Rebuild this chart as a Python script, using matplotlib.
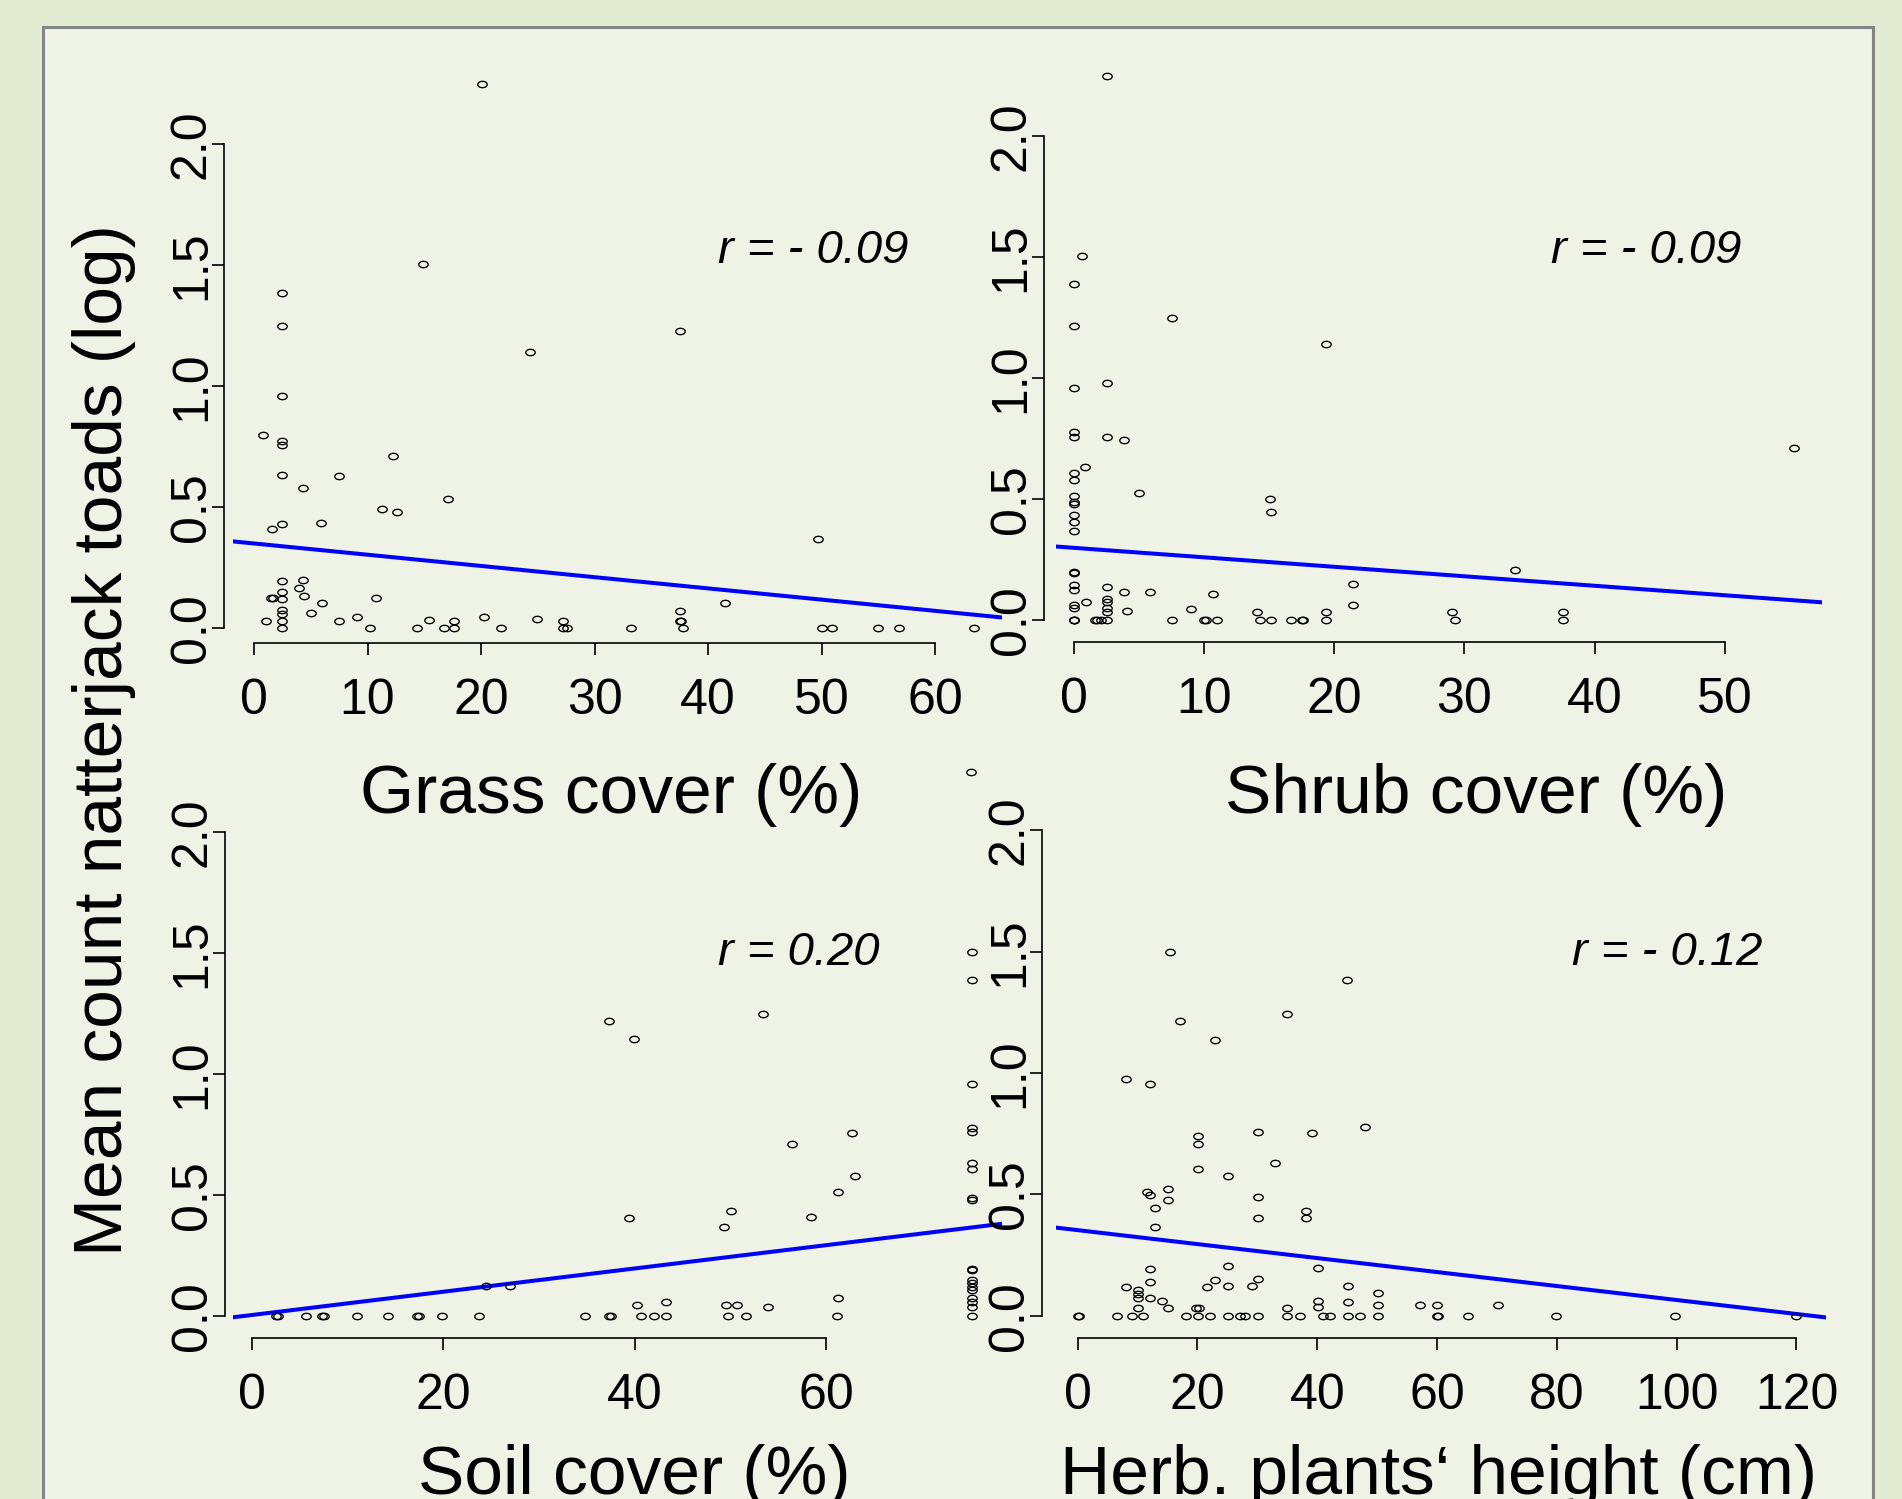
import numpy as np
import matplotlib
matplotlib.use('Agg')
import matplotlib.pyplot as plt
from matplotlib.path import Path
from matplotlib.transforms import Affine2D
from matplotlib.patches import Rectangle

plt.rcParams['font.family'] = ['Liberation Sans', 'DejaVu Sans']

# ---- data (log mean counts) ----
grass_x = [20.05, 14.86, 2.48, 2.48, 37.5, 24.3, 2.48, 0.81, 2.48, 2.48, 12.2, 2.48, 7.48,
           4.28, 17.07, 11.26, 12.57, 5.86, 2.48, 1.62, 49.7,
           2.48, 4.28, 4.0, 2.48, 1.5, 1.7, 4.41, 2.48, 10.77, 5.95, 41.5, 2.48, 2.48, 5.0,
           9.1, 20.3, 37.5, 1.04, 2.48, 7.48, 15.4, 17.6, 24.96, 27.2, 37.5, 37.6,
           2.48, 10.2, 14.4, 16.7, 17.6, 21.8, 27.2, 27.6, 33.2, 37.8, 50.0, 50.9, 55.0, 56.8, 63.4]
grass_y = [2.245, 1.504, 1.385, 1.246, 1.228, 1.138, 0.958, 0.795, 0.773, 0.754, 0.708, 0.631, 0.626,
           0.579, 0.533, 0.492, 0.479, 0.433, 0.427, 0.406, 0.368,
           0.191, 0.196, 0.163, 0.147, 0.123, 0.123, 0.131, 0.119, 0.123, 0.10, 0.10, 0.073, 0.058, 0.062,
           0.046, 0.046, 0.071, 0.027, 0.027, 0.027, 0.033, 0.027, 0.036, 0.027, 0.027, 0.027,
           0, 0, 0, 0, 0, 0, 0, 0, 0, 0, 0, 0, 0, 0, 0]

shrub_x = [2.52, 0.62, 0, 0, 7.55, 19.39, 0, 2.52, 0, 0, 2.52, 3.88, 55.3, 0.83, 0, 0, 5.03,
           0, 0, 0, 15.1, 15.18, 0, 0, 0, 33.87, 0, 0, 0, 0, 2.52, 3.88, 5.86, 10.7, 21.45,
           2.52, 0.95, 0, 0, 2.52, 2.52, 2.52, 4.08, 9.03, 14.07, 19.39, 21.45, 29.04, 37.54,
           0, 0, 0, 1.6, 1.8, 2.1, 2.52, 7.55, 10.0, 10.15, 11.0, 14.27, 15.18, 16.67, 17.5,
           17.6, 19.39, 29.25, 37.54]
shrub_y = [2.248, 1.505, 1.388, 1.218, 1.247, 1.141, 0.960, 0.981, 0.780, 0.756, 0.759, 0.744, 0.710,
           0.633, 0.608, 0.579, 0.525, 0.513, 0.487, 0.479, 0.502, 0.448, 0.435, 0.407, 0.369,
           0.206, 0.201, 0.195, 0.147, 0.125, 0.139, 0.119, 0.119, 0.108, 0.152,
           0.090, 0.074, 0.063, 0.052, 0.074, 0.049, 0.033, 0.038, 0.046, 0.033, 0.033, 0.062,
           0.033, 0.033,
           0, 0, 0, 0, 0, 0, 0, 0, 0, 0, 0, 0, 0, 0, 0, 0, 0, 0, 0]

soil_x = [2.56, 2.7, 5.68, 7.4, 7.6, 10.96, 14.2, 17.3, 17.5, 19.92, 23.76, 34.88, 37.3, 37.5,
          40.72, 42.0, 43.24, 49.8, 51.64, 61.2, 75.3,
          24.48, 27.04, 39.44, 40.28, 43.24, 49.36, 50.08, 49.56, 50.68, 53.96, 56.48, 75.2,
          37.3, 39.9, 53.4, 62.7, 63.0, 61.3, 58.4, 61.3,
          75.3, 75.3, 75.3, 75.3, 75.3, 75.3, 75.3, 75.3, 75.3, 75.3, 75.3, 75.3, 75.3, 75.3,
          75.3, 75.3, 75.3, 75.3]
soil_y = [0, 0, 0, 0, 0, 0, 0, 0, 0, 0, 0, 0, 0, 0, 0, 0, 0, 0, 0, 0, 0,
          0.123, 0.123, 0.406, 0.045, 0.058, 0.369, 0.434, 0.045, 0.045, 0.037, 0.709, 2.25,
          1.218, 1.143, 1.248, 0.756, 0.579, 0.512, 0.408, 0.073,
          1.503, 1.388, 0.959, 0.778, 0.759, 0.631, 0.609, 0.489, 0.479, 0.194, 0.19, 0.149,
          0.135, 0.121, 0.107, 0.073, 0.059, 0.038]

herb_x = [0, 0.3, 6.63, 9.14, 10.97, 18.0, 19.67, 20.17, 20.06, 22.1, 25.1, 27.1, 28.0, 30.1,
          35.0, 35.0, 37.1, 40.9, 42.1, 45.1, 47.1, 50.1, 60.06, 60.1, 65.1,
          8.08, 10.03, 10.03, 10.03, 10.03, 12.09, 12.09, 12.09, 14.15, 15.04, 21.6, 23.0,
          25.1, 25.1, 29.1, 30.1, 40.06, 40.06, 40.06, 45.07, 45.07, 50.1, 50.1, 57.2, 60.06,
          70.1, 11.53, 12.09, 15.04, 15.04, 12.98, 12.98, 20.06, 25.1, 33.0, 30.1, 30.1,
          38.05, 38.05, 15.46, 45.0, 35.0, 17.08, 22.97, 8.01, 12.07, 20.03, 20.03, 30.05,
          39.1, 47.96, 79.9, 99.75, 120.0]
herb_y = [0, 0, 0, 0, 0, 0, 0.033, 0.033, 0, 0, 0, 0, 0, 0,
          0, 0.033, 0, 0, 0, 0, 0, 0, 0, 0, 0,
          0.118, 0.106, 0.089, 0.074, 0.033, 0.191, 0.139, 0.074, 0.060, 0.033, 0.118, 0.147,
          0.205, 0.122, 0.122, 0.151, 0.196, 0.062, 0.037, 0.122, 0.056, 0.093, 0.044, 0.044, 0.044,
          0.044, 0.511, 0.499, 0.522, 0.478, 0.445, 0.367, 0.606, 0.576, 0.629, 0.490, 0.404,
          0.433, 0.404, 1.50, 1.382, 1.242, 1.214, 1.136, 0.977, 0.956, 0.739, 0.706, 0.757,
          0.753, 0.776, 0, 0, 0]

# fitted lines: intercept, slope
fits = [(0.348, -0.00464), (0.2995, -0.00392), (0.004, 0.00481), (0.3526, -0.00288)]
r_labels = ['r = - 0.09', 'r = - 0.09', 'r = 0.20', 'r = - 0.12']
x_labels = ['Grass cover (%)', 'Shrub cover (%)', 'Soil cover (%)', 'Herb. plants\u2018 height (cm)']
x_ticks = [np.arange(0, 61, 10), np.arange(0, 51, 10), np.arange(0, 61, 20), np.arange(0, 121, 20)]
y_ticks = [0.0, 0.5, 1.0, 1.5, 2.0]
y_label = 'Mean count natterjack toads (log)'

xs_all = [grass_x, shrub_x, soil_x, herb_x]
ys_all = [grass_y, shrub_y, soil_y, herb_y]

# ---- layout in pixels (figure 1902 x 1499) ----
W, H = 1902, 1499
# left, right, bottom, top of each plot region
boxes = [(232.7, 1002, 643.3, 60), (1056, 1822, 641.7, 60),
         (233.3, 1002.3, 1337.7, 760), (1056, 1825.6, 1337.7, 760)]
xlims = [(-1.88, 65.9), (-1.36, 57.47), (-1.92, 78.43), (-3.62, 124.86)]
ylims = [(-0.0645, 2.346), (-0.0884, 2.315), (-0.0897, 2.298), (-0.0907, 2.29)]
yaxis_offset = [8.7, 12.3, 8.4, 14.0]   # px, axis drawn left of region
r_pos = [(813, 263), (1646, 263), (799, 965), (1667, 965)]
xlab_pos = [(611, 813), (1476, 813), (634, 1494), (1438, 1494)]

px2pt = 72 / 100

fig = plt.figure(figsize=(W / 100, H / 100), dpi=100)
fig.patch.set_facecolor('#e3ebd2')
fig.patches.append(Rectangle((43 / W, -0.05), (1873 - 43) / W, 1.05 - 27 / H,
                             transform=fig.transFigure, facecolor='#eff3e5',
                             edgecolor='#858585', linewidth=2.2, zorder=-5))

ell = Path.unit_circle().transformed(Affine2D().scale(1.0, 0.68))

for i in range(4):
    l, r, b, t = boxes[i]
    ax = fig.add_axes([l / W, 1 - b / H, (r - l) / W, (b - t) / H])
    ax.set_facecolor('none')
    ax.plot(xs_all[i], ys_all[i], linestyle='none', marker=ell, markersize=6.8,
            markerfacecolor='none', markeredgecolor='black', markeredgewidth=0.95,
            clip_on=False, zorder=3)
    ax.set_xlim(*xlims[i])
    ax.set_ylim(*ylims[i])
    xx = np.array(xlims[i])
    ax.plot(xx, fits[i][0] + fits[i][1] * xx, color='#0000ff', linewidth=2.9, zorder=2)

    for s in ['top', 'right']:
        ax.spines[s].set_visible(False)
    ax.spines['left'].set_position(('outward', yaxis_offset[i] * px2pt))
    ax.spines['left'].set_bounds(0, 2.0)
    ax.spines['bottom'].set_bounds(x_ticks[i][0], x_ticks[i][-1])
    for s in ['left', 'bottom']:
        ax.spines[s].set_linewidth(1.2)

    ax.set_xticks(x_ticks[i])
    ax.set_xticklabels([str(v) for v in x_ticks[i]])
    ax.set_yticks(y_ticks)
    ax.set_yticklabels(['%.1f' % v for v in y_ticks], rotation=90, va='center')
    ax.tick_params(axis='both', direction='out', length=8.6, width=1.2, labelsize=36)
    ax.tick_params(axis='x', pad=16.5)
    ax.tick_params(axis='y', pad=-2)

    fig.text(r_pos[i][0] / W, 1 - r_pos[i][1] / H, r_labels[i], fontsize=34,
             style='italic', ha='center', va='baseline')
    fig.text(xlab_pos[i][0] / W, 1 - xlab_pos[i][1] / H, x_labels[i], fontsize=50,
             ha='center', va='baseline')

fig.text(104 / W, 1 - 740 / H, y_label, fontsize=50, rotation=90, ha='center', va='center')

plt.savefig('out.png', dpi=100, facecolor=fig.get_facecolor())
plt.close()
